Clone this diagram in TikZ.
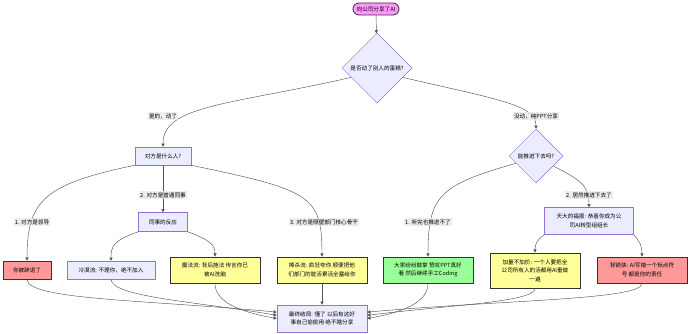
\documentclass[tikz,border=0pt]{standalone}
\usepackage{fontspec}
\usepackage{xcolor}
\usetikzlibrary{arrows.meta,calc,shapes.geometric}
\newfontfamily\cjk{Noto Sans CJK SC}
\definecolor{nodeLavender}{HTML}{ECECFF}
\definecolor{nodePurple}{HTML}{9370DB}
\definecolor{startPink}{HTML}{FF99FF}
\definecolor{badRed}{HTML}{FF9999}
\definecolor{warnYellow}{HTML}{FFFF99}
\definecolor{goodGreen}{HTML}{99FF99}
\definecolor{edgeGray}{HTML}{333333}
\definecolor{lineGray}{HTML}{555555}
\definecolor{labelGray}{HTML}{E8E8E8}
\tikzset{
  font=\cjk\fontsize{5.6}{8.6}\selectfont,
  arrow/.style={-{Triangle[length=3.2pt,width=3.2pt]}, draw=lineGray, line width=0.45pt},
  startNode/.style={rectangle, rounded corners=6pt, draw=edgeGray, line width=0.8pt, fill=startPink, minimum width=46pt, minimum height=12pt, inner sep=1pt},
  decision/.style={diamond, aspect=1, draw=nodePurple, line width=0.5pt, fill=nodeLavender, inner sep=0pt, align=center},
  process/.style={rectangle, draw=nodePurple, line width=0.5pt, fill=nodeLavender, minimum height=18pt, inner sep=2pt, align=center},
  outcome/.style={rectangle, draw=edgeGray, line width=0.8pt, minimum width=90pt, minimum height=26pt, inner sep=2pt, align=center},
  flowLabel/.style={fill=labelGray, fill opacity=0.8, text opacity=1, inner sep=1pt}
}

\begin{document}
\begin{tikzpicture}[x=1pt,y=-1pt]
\useasboundingbox (0,0) rectangle (690,334);

% --------------------------------------------------------------------------
% Questions
% --------------------------------------------------------------------------
\node[startNode] (start) at (376,9) {向公司分享了AI};
\node[decision, minimum size=70pt] (qCake) at (377,68) {是否动了别人的蛋糕?};
\node[process, minimum width=56pt] (qWho) at (163,156) {对方是什么人?};
\node[decision, minimum size=54pt] (qPush) at (536,156) {能推进下去吗?};
\node[process, minimum width=49pt, minimum height=19pt] (colleague) at (163,222) {同事的反应};
\node[process, minimum width=89pt, minimum height=27pt] (blessing) at (589,221) {天大的福报: 恭喜你成为公\\司AI转型组组长};

% --------------------------------------------------------------------------
% Outcomes
% --------------------------------------------------------------------------
\node[outcome, fill=badRed, minimum width=48pt, minimum height=18pt] (fired) at (27,270) {你被辞退了};
\node[process, minimum width=88pt] (coldMode) at (111,270) {冷漠流: 不理你，绝不加入};
\node[outcome, fill=warnYellow] (magicMode) at (215,270) {魔法流: 背后施法 传言你已\\被AI洗脑};
\node[outcome, fill=warnYellow] (praiseMode) at (322,270) {捧杀流: 疯狂夸你 顺便把他\\们部门的脏活累活全塞给你};
\node[outcome, fill=goodGreen] (applause) at (428,270) {大家纷纷鼓掌 赞叹PPT真好\\看 然后继续手工Coding};
\node[outcome, fill=warnYellow, minimum height=35pt] (extraWork) at (535,270.5) {加量不加价: 一个人要把全\\公司所有人的活都用AI重做\\一遍};
\node[outcome, fill=badRed] (scapegoat) at (642,270) {背锅侠: AI写错一个标点符\\号 都是你的责任};
\node[process, minimum width=90pt, minimum height=27pt] (ending) at (322,318.5) {最终结局: 懂了 以后有这好\\事自己偷偷用 绝不瞎分享};

% --------------------------------------------------------------------------
% Connectors
% --------------------------------------------------------------------------
\draw[arrow] (start) -- (qCake);
\draw[arrow] (qCake.200) .. controls (230,105) and (163,105) .. (qWho.north);
\node[flowLabel] (lblYes) at (163,116) {是的，动了};
\draw[arrow] (qCake.-20) .. controls (500,100) and (536,105) .. (qPush.north);
\node[flowLabel] (lblNo) at (536,116) {没动，纯PPT分享};

\draw[arrow] (qWho.south west) .. controls (45,184) and (27,200) .. (fired.north);
\node[flowLabel] (lblBoss) at (32,222) {1. 对方是领导};
\draw[arrow] (qWho) -- (colleague);
\node[flowLabel] (lblPeer) at (163,195) {2. 对方是普通同事};
\draw[arrow] (qWho.south east) .. controls (310,190) and (322,195) .. (praiseMode.north);
\node[flowLabel] (lblCore) at (324,222) {3. 对方是隔壁部门核心骨干};
\draw[arrow] (colleague.south west) .. controls (115,240) and (111,245) .. (coldMode.north);
\draw[arrow] (colleague.south east) .. controls (210,240) and (215,245) .. (magicMode.north);

\draw[arrow] (qPush.200) .. controls (440,185) and (428,195) .. (applause.north);
\node[flowLabel] (lblStuck) at (428,222) {1. 听完也推进不了};
\draw[arrow] (qPush.-30) .. controls (580,180) and (589,185) .. (blessing.north);
\node[flowLabel] (lblGo) at (589,195) {2. 居然推进下去了};
\draw[arrow] (blessing.south west) .. controls (537,240) and (535,244) .. (extraWork.north);
\draw[arrow] (blessing.south east) .. controls (640,242) and (642,246) .. (scapegoat.north);

\draw[arrow] (fired.south) .. controls (27,300) and (150,300) .. (ending.172);
\draw[arrow] (coldMode.south) .. controls (111,297) and (200,302) .. (ending.176);
\draw[arrow] (magicMode.south) .. controls (215,302) and (240,312) .. (ending.180);
\draw[arrow] (praiseMode) -- (ending);
\draw[arrow] (applause.south) .. controls (428,302) and (404,312) .. (ending.0);
\draw[arrow] (extraWork.south) .. controls (535,302) and (450,305) .. (ending.4);
\draw[arrow] (scapegoat.south) .. controls (642,300) and (500,300) .. (ending.8);

\end{tikzpicture}
\end{document}
